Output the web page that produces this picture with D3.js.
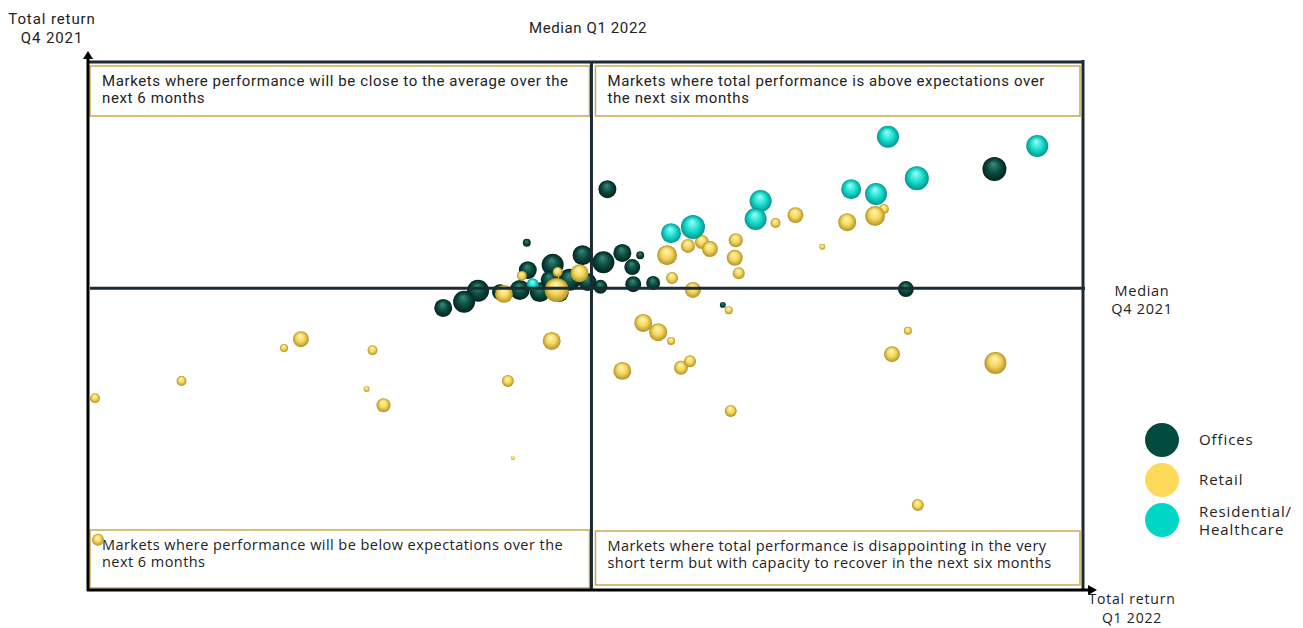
<!DOCTYPE html>
<html>
<head>
<meta charset="utf-8">
<script src="https://cdn.jsdelivr.net/npm/d3@7"></script>
<style>
  body { margin: 0; background: #fff; }
  svg { display: block; }
</style>
</head>
<body>
<svg class="chart"></svg>
<script>
// [total return Q1 2022, total return Q4 2021, size]
const offices = [
  [3.22, 8.11, 56], [7.11, 8.57, 100], [6.22, 5.84, 44], [2.41, 6.89, 11],
  [2.97, 6.61, 69], [3.18, 6.45, 84], [3.37, 6.66, 56], [3.55, 6.61, 11],
  [3.47, 6.34, 44], [2.67, 6.39, 84], [2.42, 6.27, 56], [3.48, 5.95, 44],
  [3.68, 5.98, 34], [3.15, 5.89, 34], [1.92, 5.80, 84], [1.78, 5.55, 84],
  [1.57, 5.41, 56], [4.38, 5.48, 6], [2.34, 5.82, 69], [2.54, 5.77, 69],
  [2.84, 6.05, 84], [3.02, 6.00, 56], [2.64, 6.05, 56], [2.14, 5.77, 44],
  [2.74, 5.75, 56]
];
const retail = [
  [-1.93, 3.36, 17], [-1.90, 0.14, 25], [-1.06, 3.75, 17], [-0.03, 4.50, 11],
  [0.14, 4.70, 44], [0.86, 4.45, 17], [0.80, 3.57, 6], [0.97, 3.20, 34],
  [2.22, 3.75, 25], [2.27, 2.00, 3], [2.66, 4.66, 56], [2.18, 5.73, 56],
  [2.36, 6.14, 17], [2.94, 6.20, 56], [2.72, 6.23, 17], [2.71, 5.82, 100],
  [3.82, 6.61, 69], [4.03, 6.82, 34], [4.17, 6.91, 34], [4.25, 6.75, 44],
  [4.51, 6.95, 34], [4.50, 6.55, 44], [4.54, 6.20, 25], [3.87, 6.09, 25],
  [4.08, 5.82, 44], [4.91, 7.34, 17], [5.11, 7.52, 44], [5.38, 6.80, 6],
  [5.63, 7.36, 56], [6.00, 7.66, 17], [5.91, 7.50, 69], [3.58, 5.07, 56],
  [3.73, 4.86, 56], [3.86, 4.66, 11], [3.37, 3.98, 56], [3.96, 4.05, 34],
  [4.05, 4.20, 25], [4.44, 5.36, 11], [6.24, 4.89, 11], [6.08, 4.36, 44],
  [7.12, 4.16, 84], [4.46, 3.07, 25], [6.34, 0.93, 25]
];
const residential = [
  [6.04, 9.30, 84], [7.54, 9.09, 84], [6.33, 8.36, 100], [5.67, 8.11, 69],
  [5.92, 8.00, 84], [4.76, 7.84, 84], [4.71, 7.43, 84], [4.08, 7.25, 100],
  [3.86, 7.11, 69], [2.47, 5.95, 25]
];
const medianX = 3.06;
const medianY = 5.86;

const seriesNames = ["Offices", "Retail", "Residential/Healthcare"];
const quadrantTexts = [
  ["Markets where performance will be close to the average over the", "next 6 months"],
  ["Markets where total performance is above expectations over", "the next six months"],
  ["Markets where performance will be below expectations over the", "next 6 months"],
  ["Markets where total performance is disappointing in the very", "short term but with capacity to recover in the next six months"]
];

const width = 1303, height = 628;
const margin = {left: 88, right: 1083, top: 62, bottom: 590};

const svg = d3.select(".chart").attr("width", width).attr("height", height);

const x = d3.scaleLinear().domain([-2, 8]).range([margin.left, margin.right]);
const y = d3.scaleLinear().domain([-1, 11]).range([margin.bottom, margin.top]);
const r = d3.scaleSqrt().domain([0, 100]).range([0, 12]);

// sphere-like gradients
const defs = svg.append("defs");
const grads = [
  {id: "gOff", c: ["#3d8a7c", "#0b4c41", "#03241f"]},
  {id: "gRet", c: ["#fff6b8", "#f3d75c", "#b39125"]},
  {id: "gRes", c: ["#a5fbf4", "#17dfd0", "#07948a"]}
];
grads.forEach(function(g) {
  const rg = defs.append("radialGradient").attr("id", g.id)
    .attr("cx", "50%").attr("cy", "50%").attr("r", "50%")
    .attr("fx", "45%").attr("fy", "28%");
  rg.append("stop").attr("offset", "0%").attr("stop-color", g.c[0]);
  rg.append("stop").attr("offset", "55%").attr("stop-color", g.c[1]);
  rg.append("stop").attr("offset", "100%").attr("stop-color", g.c[2]);
});

const L = margin.left, R = margin.right, T = margin.top, B = margin.bottom;
const xm = x(medianX), ym = y(medianY);
const gold = "#c9a94d";
const dark = "#1b2b34";
const plex = "Roboto, sans-serif";
const work = "'Open Sans', sans-serif";

// quadrant boxes
const boxes = [
  {x0: L + 2, x1: xm - 2, y0: T + 4, y1: T + 54},
  {x0: xm + 4, x1: R - 3, y0: T + 4, y1: T + 54},
  {x0: L + 2, x1: xm - 2, y0: B - 60, y1: B - 2},
  {x0: xm + 4, x1: R - 3, y0: B - 59, y1: B - 5}
];
boxes.forEach(function(b, i) {
  svg.append("rect")
    .attr("x", b.x0).attr("y", b.y0)
    .attr("width", b.x1 - b.x0).attr("height", b.y1 - b.y0)
    .attr("fill", "#fff").attr("stroke", gold).attr("stroke-width", 1.5);
  const t = svg.append("text")
    .attr("font-family", i < 2 ? plex : work)
    .attr("font-size", i < 2 ? 15 : 14.5)
    .attr("letter-spacing", i < 2 ? 0.6 : 0.45)
    .attr("fill", "#222");
  quadrantTexts[i].forEach(function(line, j) {
    t.append("tspan").attr("x", b.x0 + 12).attr("y", b.y0 + 20 + j * 17).text(line);
  });
});

// bubbles
const all = [
  {data: offices, fill: "url(#gOff)"},
  {data: retail, fill: "url(#gRet)"},
  {data: residential, fill: "url(#gRes)"}
];
all.forEach(function(s) {
  svg.append("g").selectAll("circle")
    .data(s.data)
    .enter().append("circle")
      .attr("cx", function(d) { return x(d[0]); })
      .attr("cy", function(d) { return y(d[1]); })
      .attr("r", function(d) { return r(d[2]); })
      .attr("fill", s.fill);
});

// frame and median lines
svg.append("line").attr("x1", L).attr("x2", R).attr("y1", T).attr("y2", T)
  .attr("stroke", dark).attr("stroke-width", 3);
svg.append("line").attr("x1", R).attr("x2", R).attr("y1", T - 2).attr("y2", B)
  .attr("stroke", dark).attr("stroke-width", 3);
svg.append("line").attr("x1", xm).attr("x2", xm).attr("y1", T).attr("y2", B)
  .attr("stroke", dark).attr("stroke-width", 3);
svg.append("line").attr("x1", L + 2).attr("x2", R + 2).attr("y1", ym).attr("y2", ym)
  .attr("stroke", dark).attr("stroke-width", 3);

// axes with arrows
svg.append("line").attr("x1", L).attr("x2", L).attr("y1", B + 1).attr("y2", T - 4)
  .attr("stroke", "#000").attr("stroke-width", 3);
svg.append("path").attr("d", "M" + (L - 5) + "," + (T - 3) + "L" + L + "," + (T - 11) + "L" + (L + 5) + "," + (T - 3) + "Z")
  .attr("fill", "#000");
svg.append("line").attr("x1", L - 1).attr("x2", R + 6).attr("y1", B).attr("y2", B)
  .attr("stroke", "#000").attr("stroke-width", 3);
svg.append("path").attr("d", "M" + (R + 5) + "," + (B - 5) + "L" + (R + 14) + "," + B + "L" + (R + 5) + "," + (B + 5) + "Z")
  .attr("fill", "#000");

// labels
function label(lines, cx, cy, family, size, ls, lh) {
  const t = svg.append("text").attr("text-anchor", "middle")
    .attr("font-family", family).attr("font-size", size)
    .attr("letter-spacing", ls).attr("fill", "#222");
  lines.forEach(function(l, i) {
    t.append("tspan").attr("x", cx).attr("y", cy + i * lh).text(l);
  });
}
label(["Total return", "Q4 2021"], 52, 24, plex, 15, 0.9, 19);
label(["Median Q1 2022"], 588, 33, plex, 15, 0.6, 19);
label(["Median", "Q4 2021"], 1142, 296, work, 14.5, 0.7, 18);
label(["Total return", "Q1 2022"], 1132, 604, work, 14, 0.8, 19);

// legend
const legendColors = ["#034b3f", "#ffd95a", "#00d6c6"];
const legend = svg.append("g");
seriesNames.forEach(function(name, i) {
  const ly = 440 + i * 40;
  legend.append("circle").attr("cx", 1162).attr("cy", ly).attr("r", 17).attr("fill", legendColors[i]);
  const t = legend.append("text").attr("font-family", work)
    .attr("font-size", 15).attr("letter-spacing", 0.9).attr("fill", "#222");
  if (name.indexOf("/") > 0) {
    t.append("tspan").attr("x", 1199).attr("y", ly - 3).text("Residential/");
    t.append("tspan").attr("x", 1199).attr("y", ly + 15).text("Healthcare");
  } else {
    t.append("tspan").attr("x", 1199).attr("y", ly + 5).text(name);
  }
});
</script>
</body>
</html>
